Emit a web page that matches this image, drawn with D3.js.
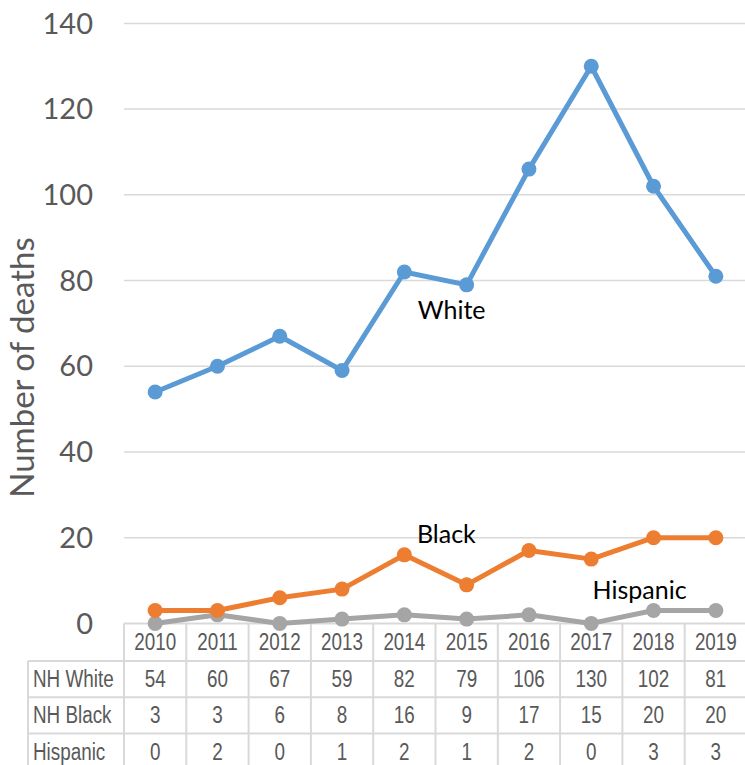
<!DOCTYPE html>
<html>
<head>
<meta charset="utf-8">
<script src="https://cdn.jsdelivr.net/npm/d3@7"></script>
<style>
  html, body { margin: 0; padding: 0; background: #fff; }
  svg { display: block; }
</style>
</head>
<body>
<svg id="chart" width="745" height="765"></svg>
<script>
// Annual deaths by race/ethnicity, 2010–2019
const years = ["2010", "2011", "2012", "2013", "2014", "2015", "2016", "2017", "2018", "2019"];
const nhWhite = [54, 60, 67, 59, 82, 79, 106, 130, 102, 81];
const nhBlack = [3, 3, 6, 8, 16, 9, 17, 15, 20, 20];
const hispanic = [0, 2, 0, 1, 2, 1, 2, 0, 3, 3];
const yTicks = [0, 20, 40, 60, 80, 100, 120, 140];

const seriesList = [
  { name: "NH White", label: "White", values: nhWhite, color: "#5B9BD5", labelAt: 5, dx: -15, dy: 34 },
  { name: "NH Black", label: "Black", values: nhBlack, color: "#ED7D31", labelAt: 4, dx: 42, dy: -12 },
  { name: "Hispanic", label: "Hispanic", values: hispanic, color: "#A5A5A5", labelAt: 8, dx: -14, dy: -12 }
];

const svg = d3.select("#chart");
const plotLeft = 124, plotRight = 747;
const tableLeft = 28;
const rowH = 36.3;
const headerTop = 623.4, headerBottom = 661;

const x = d3.scaleBand().domain(years).range([plotLeft, plotRight]).padding(0);
const y = d3.scaleLinear().domain([0, 140]).range([623.4, 23.4]);
const cx = d => x(d) + x.bandwidth() / 2;

const gridColor = "#D9D9D9";
const textColor = "#595959";
const chartFont = "Lato, 'Open Sans', sans-serif";

// Horizontal gridlines
svg.append("g")
  .selectAll("line")
  .data(yTicks.filter(t => t > 0))
  .join("line")
  .attr("x1", plotLeft).attr("x2", plotRight)
  .attr("y1", d => y(d)).attr("y2", d => y(d))
  .attr("stroke", gridColor).attr("stroke-width", 1.5);

// Y axis tick labels
svg.append("g")
  .selectAll("text")
  .data(yTicks)
  .join("text")
  .attr("x", 93)
  .attr("y", d => y(d))
  .attr("dy", "0.35em")
  .attr("text-anchor", "end")
  .attr("font-family", chartFont)
  .attr("font-size", 29)
  .attr("fill", textColor)
  .text(d => d);

// Y axis title
svg.append("text")
  .attr("transform", "translate(34,367.5) rotate(-90)")
  .attr("text-anchor", "middle")
  .attr("font-family", chartFont)
  .attr("font-size", 33)
  .attr("fill", textColor)
  .text("Number of deaths");

// Data table grid
const rowsBottom = headerBottom + rowH * 3;
const tg = svg.append("g").attr("stroke", gridColor).attr("stroke-width", 2).attr("fill", "none");
tg.append("line").attr("x1", plotLeft).attr("x2", plotRight).attr("y1", headerTop).attr("y2", headerTop);
[0, 1, 2, 3].forEach(i => {
  const yy = headerBottom + rowH * i;
  tg.append("line").attr("x1", tableLeft).attr("x2", plotRight).attr("y1", yy).attr("y2", yy);
});
tg.append("line").attr("x1", tableLeft).attr("x2", tableLeft).attr("y1", headerBottom).attr("y2", rowsBottom);
years.concat([null]).forEach((yr, i) => {
  const xx = plotLeft + x.bandwidth() * i;
  tg.append("line").attr("x1", xx).attr("x2", xx).attr("y1", headerTop).attr("y2", rowsBottom);
});

// Table text: narrow sans, compressed horizontally
const tableFont = "'Liberation Sans', Arial, sans-serif";
const narrow = 0.82;
function tableText(g, tx, ty, anchor, str) {
  return g.append("text")
    .attr("transform", `translate(${tx},${ty}) scale(${narrow},1)`)
    .attr("text-anchor", anchor)
    .attr("font-family", tableFont)
    .attr("font-size", 23)
    .attr("fill", textColor)
    .text(str);
}

const tableG = svg.append("g");
years.forEach(yr => tableText(tableG, cx(yr), 650, "middle", yr));

seriesList.forEach((s, r) => {
  const base = 687 + r * rowH;
  tableText(tableG, 33, base, "start", s.name);
  s.values.forEach((v, i) => tableText(tableG, cx(years[i]), base, "middle", v));
});

// Lines and markers (bottom series first so White sits on top)
const line = d3.line().x((d, i) => cx(years[i])).y(d => y(d));
[...seriesList].reverse().forEach(s => {
  const g = svg.append("g");
  g.append("path")
    .datum(s.values)
    .attr("d", line)
    .attr("fill", "none")
    .attr("stroke", s.color)
    .attr("stroke-width", 5)
    .attr("stroke-linejoin", "round");
  g.selectAll("circle")
    .data(s.values)
    .join("circle")
    .attr("cx", (d, i) => cx(years[i]))
    .attr("cy", d => y(d))
    .attr("r", 7.5)
    .attr("fill", s.color);
});

// Series labels
seriesList.forEach(s => {
  const i = s.labelAt;
  svg.append("text")
    .attr("x", cx(years[i]) + s.dx)
    .attr("y", y(s.values[i]) + s.dy)
    .attr("text-anchor", "middle")
    .attr("font-family", chartFont)
    .attr("font-size", 25)
    .attr("fill", "#000")
    .text(s.label);
});
</script>
</body>
</html>
